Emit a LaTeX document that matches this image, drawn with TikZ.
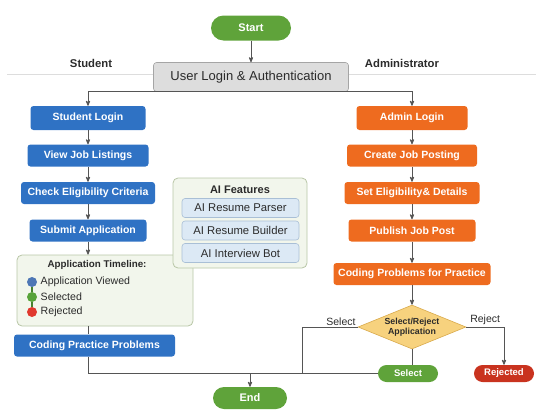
\documentclass[tikz,border=0pt]{standalone}
\usepackage{fontspec}
\setmainfont{Liberation Sans}
\usepackage{tikz}
\usetikzlibrary{arrows,shapes}

\definecolor{stublue}{HTML}{2F72C4}
\definecolor{admorange}{HTML}{EE6B1F}
\definecolor{okgreen}{HTML}{5FA33A}
\definecolor{nored}{HTML}{C9331F}
\definecolor{decfill}{HTML}{F7D27E}
\definecolor{decdraw}{HTML}{D9AA4C}
\definecolor{authfill}{HTML}{DDDDDD}
\definecolor{authdraw}{HTML}{A5A5A5}
\definecolor{panelfill}{HTML}{F2F6EC}
\definecolor{paneldraw}{HTML}{B8C6A6}
\definecolor{itemfill}{HTML}{DCE9F5}
\definecolor{itemdraw}{HTML}{A9BFD6}
\definecolor{linegray}{HTML}{555555}
\definecolor{textgray}{HTML}{2B2B2B}
\definecolor{dotblue}{HTML}{4E77B5}
\definecolor{dotgreen}{HTML}{58A33A}
\definecolor{dotred}{HTML}{E0392E}

\begin{document}
\begin{tikzpicture}[x=1pt,y=1pt,node distance=37.5pt,>=stealth',auto]

	\tikzstyle{flow}=[draw=linegray,line width=0.8pt]
	\tikzstyle{terminal}=[rectangle,rounded corners=12.5pt,fill=okgreen,text=white,minimum width=80pt,minimum height=25pt,font=\fontsize{11}{13}\selectfont\bfseries]
	\tikzstyle{authbox}=[rectangle,rounded corners=3pt,fill=authfill,draw=authdraw,line width=0.6pt,text=textgray,minimum width=195pt,minimum height=29pt,font=\fontsize{13}{15}\selectfont]
	\tikzstyle{lane}=[font=\fontsize{11.3}{13}\selectfont\bfseries,text=textgray]
	\tikzstyle{stustep}=[rectangle,rounded corners=3pt,fill=stublue,text=white,minimum height=22pt,font=\fontsize{10.5}{13}\selectfont\bfseries]
	\tikzstyle{admstep}=[rectangle,rounded corners=3pt,fill=admorange,text=white,minimum height=22pt,font=\fontsize{10.5}{13}\selectfont\bfseries]
	\tikzstyle{panel}=[rectangle,rounded corners=5pt,fill=panelfill,draw=paneldraw,line width=0.8pt]
	\tikzstyle{paneltitle}=[text=textgray,font=\fontsize{9.8}{12}\selectfont\bfseries]
	\tikzstyle{itemtext}=[text=textgray,font=\fontsize{10.6}{12}\selectfont]
	\tikzstyle{dot}=[circle,minimum size=10pt,inner sep=0pt]
	\tikzstyle{aiitem}=[rectangle,rounded corners=3pt,fill=itemfill,draw=itemdraw,line width=0.6pt,text=textgray,minimum width=117pt,minimum height=19pt,font=\fontsize{11.3}{13}\selectfont]
	\tikzstyle{decision}=[diamond,aspect=2.45,inner sep=0pt,fill=decfill,draw=decdraw,line width=0.6pt,minimum width=108pt,minimum height=44pt,align=center,text=textgray,font=\fontsize{8.8}{10.5}\selectfont\bfseries]
	\tikzstyle{outcome}=[rectangle,rounded corners=8.5pt,text=white,minimum width=60pt,minimum height=17pt,inner sep=1pt,font=\fontsize{9.5}{11}\selectfont\bfseries]
	\tikzstyle{branch}=[text=textgray,inner sep=1.5pt,font=\fontsize{10.5}{12}\selectfont]

	\useasboundingbox (0,0) rectangle (536,-410);
	\draw [draw=authfill,line width=0.8pt] (7,-74) -- (536,-74);

	\node [terminal] (start) at (251,-28) {Start};
	\node [authbox] (auth) at (251,-77) {User Login \& Authentication};
	\node [lane] (stulane) at (91,-63) {Student};
	\node [lane] (admlane) at (402,-63) {Administrator};

	% student side
	\node [stustep,minimum width=115pt,minimum height=24pt] (slogin) at (88,-118) {Student Login};
	\node [stustep,minimum width=121pt] (jobs) [below of=slogin] {View Job Listings}
		edge [flow,<-] (slogin);
	\node [stustep,minimum width=134pt] (elig) [below of=jobs] {Check Eligibility Criteria}
		edge [flow,<-] (jobs);
	\node [stustep,minimum width=117pt] (submit) [below of=elig] {Submit Application}
		edge [flow,<-] (elig);

	\node [panel,minimum width=176pt,minimum height=71pt] (timeline) at (105,-290.5) {};
	\node [paneltitle] (tltitle) at (97,-265) {Application Timeline:};
	\node [dot,fill=dotblue,label={[itemtext]right:Application Viewed}] (viewed) at (32,-282) {};
	\node [dot,fill=dotgreen,label={[itemtext]right:Selected}] (selected) [below of=viewed,node distance=15pt] {};
	\node [dot,fill=dotred,label={[itemtext]right:Rejected}] (rejected) [below of=selected,node distance=15pt] {};
	\draw [draw=dotgreen!80!black,line width=1.2pt] (viewed.south) -- (selected.north);
	\draw [draw=dotgreen!80!black,line width=1.2pt] (selected.south) -- (rejected.north);

	\node [stustep,minimum width=161pt] (practice) at (94.5,-345.5) {Coding Practice Problems};

	% AI features
	\node [panel,minimum width=134pt,minimum height=90pt] (ai) at (240,-223) {};
	\node [paneltitle,font=\fontsize{11}{13}\selectfont\bfseries] (aititle) at (240,-190) {AI Features};
	\node [aiitem] (parser) at (240.5,-208) {AI Resume Parser};
	\node [aiitem] (builder) [below of=parser,node distance=22.5pt] {AI Resume Builder};
	\node [aiitem] (bot) [below of=builder,node distance=22.5pt] {AI Interview Bot};

	% administrator side
	\node [admstep,minimum width=111pt,minimum height=24pt] (alogin) at (412,-118) {Admin Login};
	\node [admstep,minimum width=130pt] (create) [below of=alogin] {Create Job Posting}
		edge [flow,<-] (alogin);
	\node [admstep,minimum width=135pt] (details) [below of=create] {Set Eligibility\& Details}
		edge [flow,<-] (create);
	\node [admstep,minimum width=127pt] (publish) [below of=details] {Publish Job Post}
		edge [flow,<-] (details);
	\node [admstep,minimum width=157pt] (coding) [below of=publish,node distance=43.5pt] {Coding Problems for Practice}
		edge [flow,<-] (publish);
	\node [decision] (review) [below of=coding,node distance=53pt] {Select/Reject\\Application}
		edge [flow,<-] (coding);

	\node [outcome,fill=okgreen] (accept) at (408,-373.5) {Select};
	\node [outcome,fill=nored] (reject) at (504,-373.5) {Rejected};
	\node [terminal,minimum width=74pt,minimum height=22pt,rounded corners=11pt] (end) at (250,-398) {End};

	% connectors
	\coordinate (selectx) at (302,-327);
	\draw [flow,->] (start) -- (auth);
	\draw [flow,->] (auth.south) -| (slogin);
	\draw [flow,->] (auth.south) -| (alogin);
	\draw [flow,->] (submit) -- (submit |- timeline.north);
	\draw [flow] (submit |- timeline.south) -- (submit |- practice.north);
	\draw [flow] (submit |- practice.south) |- (accept);
	\draw [flow,->] (end |- accept) -- (end);
	\draw [flow] (review.west) -- node [branch,pos=0.3,above] {Select} (selectx) -- (selectx |- accept);
	\draw [flow,->] (review.east) -| node [branch,pos=0.25,above] {Reject} (reject);
	\draw [flow] (review.south) -- (review.south |- accept.north);
\end{tikzpicture}
\end{document}
